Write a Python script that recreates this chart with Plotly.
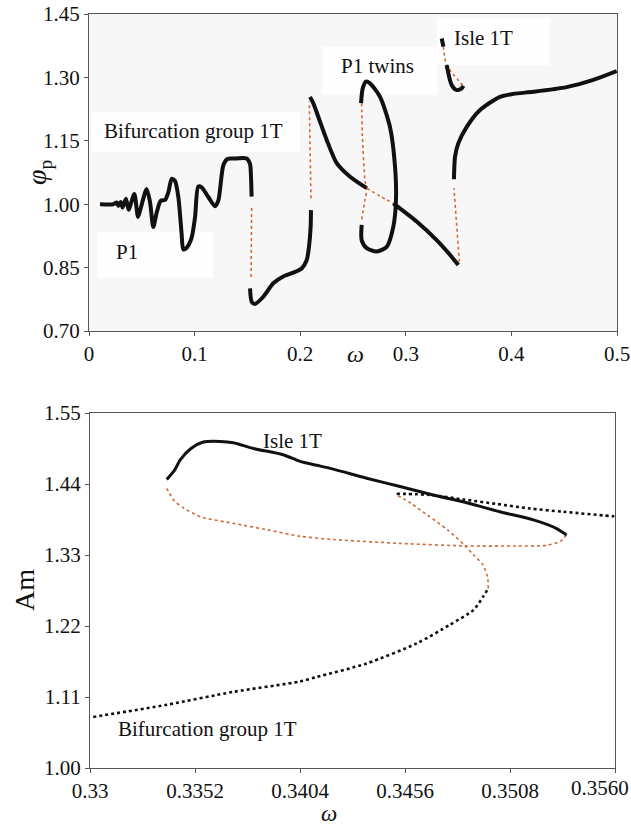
import plotly.graph_objects as go

# ---------------- Top panel: phi_p vs omega ----------------
top_x_ticks = [0, 0.1, 0.2, 0.3, 0.4, 0.5]
top_x_ticktext = ["0", "0.1", "0.2", "0.3", "0.4", "0.5"]
top_y_ticks = [0.70, 0.85, 1.00, 1.15, 1.30, 1.45]

# stable (black) branches
p1_w = [0.0104, 0.0230, 0.0262, 0.0278, 0.0300, 0.0318, 0.0350, 0.0375, 0.0429, 0.0464,
        0.0489, 0.0546, 0.0578, 0.0609, 0.0641, 0.0679, 0.0720, 0.0751, 0.0783, 0.0814,
        0.0846, 0.0877, 0.0893, 0.0925, 0.0972, 0.1004, 0.1035, 0.1067, 0.1130, 0.1193,
        0.1225, 0.1272, 0.1310, 0.1367, 0.1493, 0.1525, 0.1534, 0.1540]
p1_phi = [1.000, 1.000, 1.004, 0.996, 1.005, 0.992, 1.013, 0.987, 1.024, 0.970,
          0.990, 1.036, 1.005, 0.946, 0.980, 1.008, 1.010, 1.028, 1.060, 1.055,
          1.017, 0.930, 0.893, 0.897, 0.921, 0.969, 1.042, 1.040, 1.017, 0.995,
          1.009, 1.092, 1.107, 1.108, 1.108, 1.095, 1.065, 1.018]

b2_w = [0.1525, 0.1541, 0.1572, 0.1651, 0.1745, 0.1840, 0.1935, 0.2014, 0.2062, 0.2083, 0.2099, 0.2102]
b2_phi = [0.801, 0.769, 0.764, 0.781, 0.813, 0.829, 0.838, 0.848, 0.868, 0.899, 0.947, 0.986]

b3a_w = [0.2093, 0.2124, 0.2171, 0.2251, 0.2346, 0.2472, 0.2630]
b3a_phi = [1.254, 1.239, 1.207, 1.152, 1.097, 1.065, 1.038]

b3b_w = [0.2882, 0.3103, 0.3292, 0.3419, 0.3497]
b3b_phi = [1.002, 0.959, 0.915, 0.880, 0.856]

b4_w = [0.3456, 0.3466, 0.3497, 0.3577, 0.3703, 0.3892, 0.4018, 0.4207, 0.4523, 0.4775, 0.4997]
b4_phi = [1.059, 1.112, 1.144, 1.183, 1.223, 1.254, 1.261, 1.266, 1.277, 1.294, 1.315]

twin_w = [0.2582, 0.2582, 0.2630, 0.2724, 0.2819, 0.2882, 0.2907, 0.2898, 0.2850, 0.2756,
          0.2661, 0.2623, 0.2592, 0.2576]
twin_phi = [0.951, 0.915, 0.896, 0.888, 0.899, 0.947, 1.010, 1.089, 1.183, 1.254,
            1.286, 1.290, 1.274, 1.239]

isle_top_w = [0.3340, 0.3356]
isle_top_phi = [1.392, 1.373]
isle_low_w = [0.3387, 0.3434, 0.3482, 0.3529, 0.3545]
isle_low_phi = [1.329, 1.282, 1.270, 1.274, 1.280]

# unstable (orange) branches
u1_w = [0.1540, 0.1535]
u1_phi = [0.991, 0.825]
u2_w = [0.2102, 0.2086]
u2_phi = [1.014, 1.243]
u3_w = [0.2582, 0.2588, 0.2613, 0.2630, 0.2613, 0.2582]
u3_phi = [1.239, 1.168, 1.057, 1.035, 1.010, 0.963]
u4_w = [0.2630, 0.2756, 0.2882]
u4_phi = [1.038, 1.019, 1.002]
u5_w = [0.3507, 0.3456]
u5_phi = [0.864, 1.038]
u6_w = [0.3356, 0.3387, 0.3545]
u6_phi = [1.373, 1.329, 1.280]

# ---------------- Bottom panel: Am vs omega ----------------
bot_x_ticks = [0.33, 0.3352, 0.3404, 0.3456, 0.3508, 0.3560]
bot_x_ticktext = ["0.33", "0.3352", "0.3404", "0.3456", "0.3508", "0.3560"]
bot_y_ticks = [1.00, 1.11, 1.22, 1.33, 1.44, 1.55]

isleB_w = [0.3338, 0.3342, 0.33446, 0.3350, 0.33561, 0.33644, 0.3371, 0.3381, 0.3396, 0.3404,
           0.34123, 0.34205, 0.3437, 0.34535, 0.3470, 0.34866, 0.3503, 0.3520, 0.35311, 0.3536]
isleB_am = [1.447, 1.462, 1.477, 1.495, 1.505, 1.506, 1.504, 1.495, 1.485, 1.475,
            1.469, 1.463, 1.449, 1.436, 1.423, 1.411, 1.397, 1.384, 1.371, 1.361]

isleU_w = [0.3536, 0.35328, 0.35262, 0.3511, 0.34866, 0.34535, 0.34205, 0.3404, 0.3388,
           0.3371, 0.3355, 0.33467, 0.3342, 0.33393, 0.3338]
isleU_am = [1.361, 1.351, 1.345, 1.344, 1.344, 1.348, 1.354, 1.359, 1.369,
            1.379, 1.389, 1.402, 1.413, 1.426, 1.433]

bifL_w = [0.33016, 0.3338, 0.3371, 0.3404, 0.34123, 0.3437, 0.34618, 0.34783, 0.3490, 0.34946, 0.34972]
bifL_am = [1.079, 1.098, 1.118, 1.134, 1.141, 1.162, 1.193, 1.222, 1.245, 1.265, 1.278]

bifU_w = [0.34972, 0.34969, 0.34945, 0.3490, 0.34855, 0.34771, 0.3467, 0.3459, 0.3452]
bifU_am = [1.278, 1.296, 1.315, 1.330, 1.345, 1.369, 1.392, 1.410, 1.423]

bifH_w = [0.34519, 0.34684, 0.34850, 0.35015, 0.35180, 0.35344, 0.35592, 0.3560]
bifH_am = [1.425, 1.423, 1.416, 1.409, 1.402, 1.397, 1.390, 1.390]

BLACK = "#111111"
ORANGE = "#cf6a3a"
FONT = "Liberation Serif"

W, H = 631, 825


def px(xp):
    return xp / W


def py(yp):
    return (H - yp) / H


fig = go.Figure()


def stable(x, y, xa, ya, width=4.0, dash="solid", smooth=True):
    fig.add_trace(go.Scatter(x=x, y=y, mode="lines", xaxis=xa, yaxis=ya,
                             line=dict(color=BLACK, width=width, dash=dash,
                                       shape="spline" if smooth else "linear", smoothing=0.7),
                             showlegend=False, hoverinfo="skip"))


def unstable(x, y, xa, ya, width=1.6):
    fig.add_trace(go.Scatter(x=x, y=y, mode="lines", xaxis=xa, yaxis=ya,
                             line=dict(color=ORANGE, width=width, dash="dot",
                                       shape="spline", smoothing=0.7),
                             showlegend=False, hoverinfo="skip"))


for xs, ys in [(u1_w, u1_phi), (u2_w, u2_phi), (u3_w, u3_phi), (u4_w, u4_phi),
               (u5_w, u5_phi), (u6_w, u6_phi)]:
    unstable(xs, ys, "x", "y")
for xs, ys in [(p1_w, p1_phi), (b2_w, b2_phi), (b3a_w, b3a_phi), (b3b_w, b3b_phi),
               (b4_w, b4_phi), (twin_w, twin_phi), (isle_top_w, isle_top_phi),
               (isle_low_w, isle_low_phi)]:
    stable(xs, ys, "x", "y")

unstable(isleU_w, isleU_am, "x2", "y2")
unstable(bifU_w, bifU_am, "x2", "y2")
stable(isleB_w, isleB_am, "x2", "y2", width=3.0)
stable(bifL_w, bifL_am, "x2", "y2", width=2.6, dash="dot")
stable(bifH_w, bifH_am, "x2", "y2", width=2.6, dash="dot")

axis_common = dict(showgrid=False, zeroline=False, showline=True, linecolor="#555555",
                   linewidth=1.2, mirror=True, ticks="outside", ticklen=4, tickcolor="#555555",
                   automargin=False,
                   tickfont=dict(family=FONT, size=21, color="#111111"))

# light-grey panel background + white label patches (drawn beneath the curves)
shapes = [dict(type="rect", xref="x domain", yref="y domain", x0=0, x1=1, y0=0, y1=1,
               fillcolor="#f7f7f7", line=dict(width=0), layer="below")]
for (x0, y0, x1, y1) in [(92, 112, 300, 152), (97, 232, 213, 278),
                         (322, 47, 437, 95), (437, 18, 550, 65)]:
    shapes.append(dict(type="rect", xref="paper", yref="paper", x0=px(x0), x1=px(x1),
                       y0=py(y1), y1=py(y0), fillcolor="#fefefe", line=dict(width=0),
                       layer="below"))

bot_ticktext_shown = bot_x_ticktext[:-1] + [""]

fig.update_layout(
    width=W, height=H,
    margin=dict(l=0, r=0, t=0, b=0),
    paper_bgcolor="white",
    plot_bgcolor="rgba(0,0,0,0)",
    xaxis=dict(domain=[px(89), px(617)], range=[0, 0.5], tickvals=top_x_ticks,
               ticktext=top_x_ticktext, anchor="y", **axis_common),
    yaxis=dict(domain=[py(331), py(14)], range=[0.70, 1.45], tickvals=top_y_ticks,
               tickformat=".2f", anchor="x", **axis_common),
    xaxis2=dict(domain=[px(90), px(615)], range=[0.33, 0.356], tickvals=bot_x_ticks,
                ticktext=bot_ticktext_shown, anchor="y2", **axis_common),
    yaxis2=dict(domain=[py(768), py(413)], range=[1.00, 1.55], tickvals=bot_y_ticks,
                tickformat=".2f", anchor="x2", **axis_common),
    shapes=shapes,
)


def label(text, x, y, size=21, **kw):
    fig.add_annotation(text=text, x=px(x), y=py(y), xref="paper", yref="paper",
                       xanchor="center", yanchor="middle", showarrow=False,
                       font=dict(family=FONT, size=size, color="#111111"), **kw)


label("Bifurcation group 1T", 193, 131)
label("P1", 127, 252)
label("P1 twins", 377, 66)
label("Isle 1T", 483, 38)

label("Isle 1T", 292, 441)
label("Bifurcation group 1T", 207, 729)

# last bottom tick label sits flush with the right edge in the original
label(bot_x_ticktext[-1], 600, 788)

# axis titles
label("<i>ω</i>", 355, 354, size=24)
label("<i>φ</i><sub>p</sub>", 38, 172, size=28, textangle=-90)
label("<i>ω</i>", 329, 813, size=23)
label("Am", 24, 590, size=28, textangle=-90)

fig.write_html("out.html")
